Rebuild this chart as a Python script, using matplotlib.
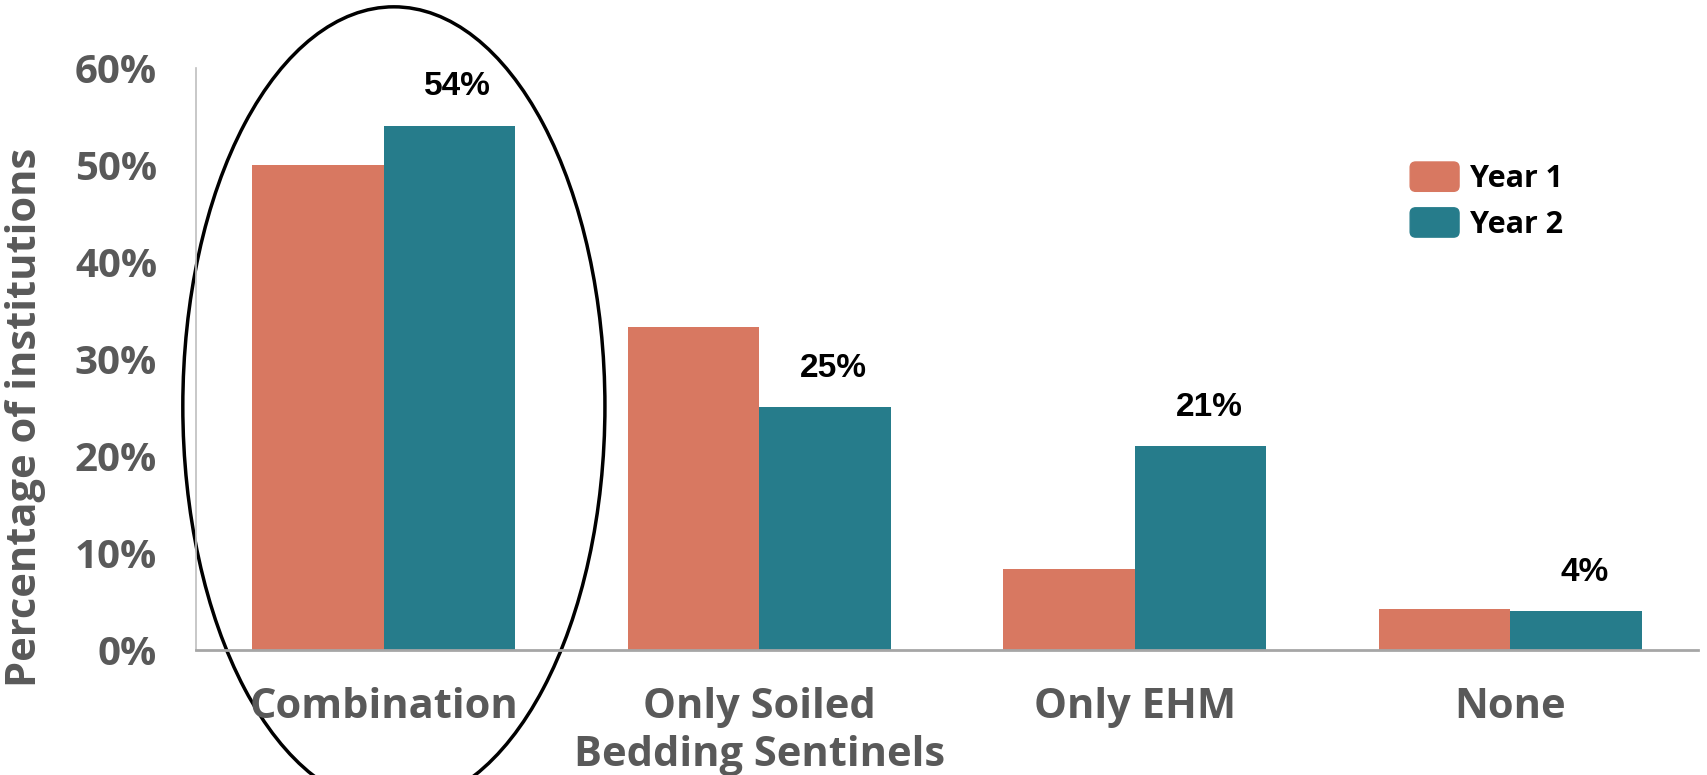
import matplotlib.pyplot as plt
import numpy as np
from matplotlib.patches import Ellipse, FancyBboxPatch, Patch
from matplotlib.legend_handler import HandlerPatch

categories = ['Combination', 'Only Soiled\nBedding Sentinels', 'Only EHM', 'None']
year1 = [50.0, 33.3, 8.3, 4.2]
year2 = [54, 25, 21, 4]
year2_labels = ['54%', '25%', '21%', '4%']
y_ticks = [0, 10, 20, 30, 40, 50, 60]

c_year1 = '#D87861'
c_year2 = '#267C8B'
grey = '#595959'

plt.rcParams['font.family'] = ['Open Sans', 'DejaVu Sans']
plt.rcParams['font.weight'] = 'bold'


def rounded_box(legend, orig_handle, xdescent, ydescent, width, height, fontsize):
    return FancyBboxPatch((-xdescent, -ydescent), width, height,
                          boxstyle='round,pad=0,rounding_size=4')


fig = plt.figure(figsize=(17.07, 7.75), dpi=100)
ax = fig.add_axes([0.1148, 0.1613, 0.88, 0.7516])

x = np.arange(len(categories))
w = 0.35
ax.bar(x - w / 2, year1, w, color=c_year1, label='Year 1')
bars2 = ax.bar(x + w / 2, year2, w, color=c_year2, label='Year 2')

for b, txt in zip(bars2, year2_labels):
    ax.annotate(txt, (b.get_x() + b.get_width() / 2, b.get_height()),
                xytext=(6, 17), textcoords='offset points', ha='center', va='bottom',
                fontsize=24, fontweight='bold', color='black',
                family=['Liberation Sans', 'DejaVu Sans'])

ax.set_xlim(-0.5, 3.5)
ax.set_ylim(0, 60)
ax.set_yticks(y_ticks)
ax.set_yticklabels([f'{t}%' for t in y_ticks], fontsize=29, color=grey, fontweight='bold')
ax.set_xticks(x)
ax.set_xticklabels(categories, fontsize=30, color=grey, fontweight='bold', linespacing=1.22)
ax.tick_params(axis='both', length=0)
ax.tick_params(axis='y', pad=28)
ax.tick_params(axis='x', pad=27)
ax.set_ylabel('Percentage of institutions', fontsize=30, color=grey, fontweight='bold')
ax.yaxis.set_label_coords(-0.1, 0.40)

for s in ['top', 'right']:
    ax.spines[s].set_visible(False)
ax.spines['left'].set_color('#BFBFBF')
ax.spines['left'].set_linewidth(1.2)
ax.spines['bottom'].set_color('#A6A6A6')
ax.spines['bottom'].set_linewidth(2)

# circle around the Combination group
ax.add_patch(Ellipse((0.027, 25.1), 1.124, 82.3, fill=False, edgecolor='black',
                     linewidth=2.5, clip_on=False))

handles = [Patch(color=c_year1, label='Year 1'), Patch(color=c_year2, label='Year 2')]
ax.legend(handles=handles, loc='upper left', bbox_to_anchor=(0.79, 0.885), frameon=False,
          handlelength=1.6, handleheight=1.1, handletextpad=0.35,
          labelspacing=0.45, prop={'weight': 'bold', 'size': 22},
          handler_map={Patch: HandlerPatch(patch_func=rounded_box)})

fig.savefig('out.png', dpi=100)
